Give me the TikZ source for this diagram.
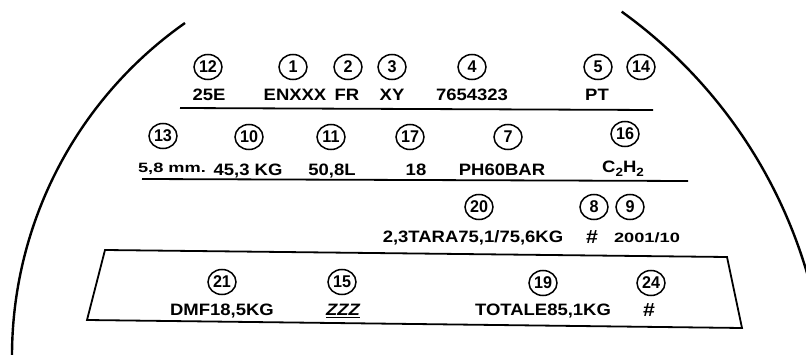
\documentclass[tikz,border=0pt]{standalone}
\usepackage{fontspec}
\setmainfont{Liberation Sans}
\newfontfamily\labfont[FakeStretch=1.12]{Liberation Sans}
\newfontfamily\numfont[FakeStretch=0.95]{Liberation Sans}
\newfontfamily\smallfont[FakeStretch=1.35]{Liberation Sans}
\usetikzlibrary{shapes.geometric}
\newcommand{\subtwo}{\raisebox{-3.5pt}{\fontsize{12}{12}\selectfont 2}}
\begin{document}
\begin{tikzpicture}[x=1pt,y=1pt,
  num/.style={draw, ellipse, minimum width=28pt, minimum height=25pt, inner sep=0pt, line width=1.5pt,
    font=\numfont\bfseries\fontsize{17}{17}\selectfont},
  lab/.style={inner sep=0pt, text height=11.8pt, text depth=0pt,
    font=\labfont\bfseries\fontsize{16.5}{16.5}\selectfont},
  smalllab/.style={inner sep=0pt, text height=9.5pt, text depth=0pt,
    font=\smallfont\bfseries\fontsize{13.5}{13.5}\selectfont},
  hash/.style={inner sep=0pt, text height=12pt, text depth=0pt,
    font=\labfont\bfseries\fontsize{19}{19}\selectfont},
  rule/.style={line width=1.8pt},
  rim/.style={line width=2.4pt}]
\useasboundingbox (0,0) rectangle (806,354);

% rim arcs
\draw[rim] ([shift={(419,-2)}]125.1:407) arc[start angle=125.1, end angle=182, radius=407];
\draw[rim] ([shift={(334,-58)}]54.3:493) arc[start angle=54.3, end angle=10, radius=493];

% rules
\draw[rule] (180,246) -- (653,244);
\draw[rule] (142,175) -- (688,173);

% lower box
\draw[rule, line join=miter] (105,104) -- (727,97) -- (742,26) -- (87,34) -- cycle;

% row 1
\node[num] (c12) at (208,287) {12};
\node[lab] (t12) at (209,259) {25E};
\node[num] (c1) at (293,287) {1};
\node[lab] (t1) at (295,259) {ENXXX};
\node[num] (c2) at (348,287) {2};
\node[lab] (t2) at (347,259) {FR};
\node[num] (c3) at (392,287) {3};
\node[lab] (t3) at (392,259) {XY};
\node[num] (c4) at (472,287) {4};
\node[lab] (t4) at (472,259) {7654323};
\node[num] (c5) at (598,287) {5};
\node[lab] (t5) at (597,259) {PT};
\node[num] (c14) at (641,287) {14};

% row 2
\node[num] (c13) at (163,218) {13};
\node[smalllab] (t13) at (172,186) {5,8 mm.};
\node[num] (c10) at (249,217) {10};
\node[lab] (t10) at (248,184) {45,3 KG};
\node[num] (c11) at (331,217) {11};
\node[lab] (t11) at (332,184) {50,8L};
\node[num] (c17) at (410,217) {17};
\node[lab] (t17) at (416,184) {18};
\node[num] (c7) at (508,217) {7};
\node[lab] (t7) at (502,184) {PH60BAR};
\node[num] (c16) at (625,220) {16};
\node[lab] (t16) at (623,187) {C\subtwo H\subtwo};

% row 3
\node[num] (c20) at (479,147) {20};
\node[lab] (t20) at (473,117) {2,3TARA75,1/75,6KG};
\node[num] (c8) at (594,147) {8};
\node[hash] (t8) at (592,117) {\#};
\node[num] (c9) at (630,147) {9};
\node[smalllab] (t9) at (647,116) {2001/10};

% box row
\node[num] (c21) at (222,72) {21};
\node[lab] (t21) at (222,44) {DMF18,5KG};
\node[num] (c15) at (342,72) {15};
\node[lab] (t15) at (343,44) {\itshape\underline{ZZZ}};
\node[num] (c19) at (543,71) {19};
\node[lab] (t19) at (543,44) {TOTALE85,1KG};
\node[num] (c24) at (651,71) {24};
\node[hash] (t24) at (649,44) {\#};
\end{tikzpicture}
\end{document}
